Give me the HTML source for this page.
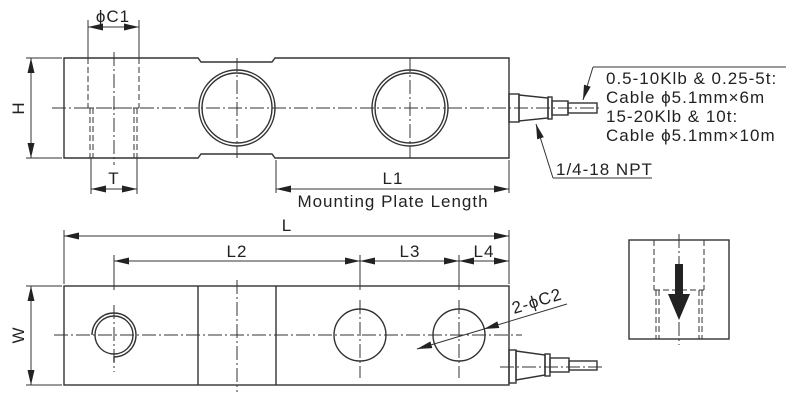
<!DOCTYPE html>
<html><head><meta charset="utf-8"><style>
html,body{margin:0;padding:0;background:#fff}
svg{display:block}
text{font-family:"Liberation Sans",Arial,sans-serif;fill:#222;letter-spacing:1px}
</style></head><body>
<svg width="800" height="400" viewBox="0 0 800 400" xmlns="http://www.w3.org/2000/svg">
<defs>
<marker id="a" viewBox="0 0 15 7" refX="15" refY="3.5" markerWidth="15" markerHeight="7" orient="auto-start-reverse" markerUnits="userSpaceOnUse"><path d="M0,0L15,3.5L0,7z" fill="#222"/></marker>
</defs>
<g stroke="#333" stroke-width="1.4" fill="none">
<path d="M64,58H198l3,4H272l3,-4H509V158H275l-3,-4H201l-3,4H64Z"/>
<circle cx="237" cy="108" r="38"/><circle cx="237" cy="108" r="35"/>
<circle cx="410" cy="108" r="38"/><circle cx="410" cy="108" r="35"/>
<rect x="509" y="94" width="10" height="28"/>
<path d="M519,95L548,98V118L519,121Z"/>
<rect x="548" y="97" width="4" height="22"/>
<rect x="552" y="101" width="16" height="14"/>
<rect x="568" y="103" width="29" height="10"/>
<rect x="64" y="286" width="445" height="99"/>
<line x1="198" y1="286" x2="198" y2="385"/><line x1="276" y1="286" x2="276" y2="385"/>
<circle cx="114" cy="335" r="19"/>
<path d="M92,335A22,22 0 1 1 114,357V362"/>
<circle cx="360" cy="335" r="26"/><circle cx="459" cy="335" r="26"/>
<rect x="509" y="350" width="7" height="33"/>
<path d="M516,351L545,355V375L516,380Z"/>
<rect x="545" y="354" width="5" height="22"/>
<rect x="550" y="358" width="19" height="14"/>
<rect x="569" y="361" width="28" height="9"/>
<rect x="629" y="240" width="100" height="99"/>
</g>
<g stroke="#333" stroke-width="1" fill="none" stroke-dasharray="14,3,2,3">
<line x1="52" y1="108" x2="600" y2="108"/>
<line x1="237" y1="58" x2="237" y2="158"/><line x1="410" y1="58" x2="410" y2="158"/>
<line x1="114" y1="52" x2="114" y2="165"/>
<line x1="54" y1="335" x2="522" y2="335"/>
<line x1="114" y1="305" x2="114" y2="372"/>
<line x1="237" y1="280" x2="237" y2="392"/>
<line x1="360" y1="300" x2="360" y2="378"/>
<line x1="459" y1="300" x2="459" y2="378"/>
<line x1="500" y1="367" x2="605" y2="367"/>
<line x1="679" y1="234" x2="679" y2="345"/>
</g>
<g stroke="#333" stroke-width="1" fill="none" stroke-dasharray="6,3">
<line x1="88" y1="58" x2="88" y2="108"/><line x1="139" y1="58" x2="139" y2="108"/>
<line x1="88" y1="108" x2="139" y2="108"/>
<line x1="90" y1="108" x2="90" y2="158"/><line x1="93" y1="108" x2="93" y2="158"/>
<line x1="134" y1="108" x2="134" y2="158"/><line x1="137" y1="108" x2="137" y2="158"/>
<line x1="654" y1="240" x2="654" y2="290"/><line x1="704" y1="240" x2="704" y2="290"/>
<line x1="654" y1="290" x2="704" y2="290"/>
<line x1="656" y1="290" x2="656" y2="339"/><line x1="659" y1="290" x2="659" y2="339"/>
<line x1="699" y1="290" x2="699" y2="339"/><line x1="702" y1="290" x2="702" y2="339"/>
</g>
<g stroke="#333" stroke-width="1" fill="none">
<line x1="88" y1="20" x2="88" y2="58"/><line x1="139" y1="20" x2="139" y2="58"/>
<line x1="88" y1="27" x2="139" y2="27" marker-start="url(#a)" marker-end="url(#a)"/>
<line x1="26" y1="58" x2="62" y2="58"/><line x1="26" y1="158" x2="62" y2="158"/>
<line x1="31" y1="58" x2="31" y2="158" marker-start="url(#a)" marker-end="url(#a)"/>
<line x1="91" y1="158" x2="91" y2="194"/><line x1="137" y1="158" x2="137" y2="194"/>
<line x1="91" y1="189" x2="137" y2="189" marker-start="url(#a)" marker-end="url(#a)"/>
<line x1="276" y1="160" x2="276" y2="193"/><line x1="509" y1="160" x2="509" y2="193"/>
<line x1="276" y1="189" x2="509" y2="189" marker-start="url(#a)" marker-end="url(#a)"/>
<line x1="64" y1="230" x2="64" y2="284"/><line x1="509" y1="230" x2="509" y2="284"/>
<line x1="64" y1="236" x2="509" y2="236" marker-start="url(#a)" marker-end="url(#a)"/>
<line x1="114" y1="255" x2="114" y2="290"/><line x1="360" y1="255" x2="360" y2="290"/>
<line x1="459" y1="255" x2="459" y2="290"/>
<line x1="114" y1="261" x2="360" y2="261" marker-start="url(#a)" marker-end="url(#a)"/>
<line x1="360" y1="261" x2="459" y2="261" marker-start="url(#a)" marker-end="url(#a)"/>
<line x1="459" y1="261" x2="509" y2="261" marker-start="url(#a)" marker-end="url(#a)"/>
<line x1="26" y1="286" x2="62" y2="286"/><line x1="26" y1="385" x2="62" y2="385"/>
<line x1="31" y1="286" x2="31" y2="385" marker-start="url(#a)" marker-end="url(#a)"/>
<line x1="417" y1="349" x2="434" y2="344" marker-start="url(#a)"/>
<line x1="434" y1="344" x2="484" y2="329"/>
<line x1="484" y1="329" x2="567" y2="304" marker-start="url(#a)"/>
<line x1="786" y1="67" x2="593" y2="67"/>
<line x1="593" y1="67" x2="583" y2="100" marker-end="url(#a)"/>
<line x1="652" y1="178" x2="553" y2="178"/>
<line x1="553" y1="178" x2="536" y2="124" marker-end="url(#a)"/>
</g>
<path d="M675,264h8v30h7l-11,26l-11,-26h7z" fill="#222"/>
<g font-size="17">
<text x="113" y="22" text-anchor="middle">ϕC1</text>
<text transform="translate(24,108) rotate(-90)" text-anchor="middle">H</text>
<text x="114" y="184" text-anchor="middle">T</text>
<text x="393" y="184" text-anchor="middle">L1</text>
<text x="393" y="207" text-anchor="middle">Mounting Plate Length</text>
<text x="287" y="231" text-anchor="middle">L</text>
<text x="237" y="257" text-anchor="middle">L2</text>
<text x="410" y="257" text-anchor="middle">L3</text>
<text x="484" y="257" text-anchor="middle">L4</text>
<text transform="translate(24,335) rotate(-90)" text-anchor="middle">W</text>
<text transform="translate(514,314) rotate(-17)">2-ϕC2</text>
<text x="606" y="84">0.5-10Klb &amp; 0.25-5t:</text>
<text x="606" y="103">Cable ϕ5.1mm×6m</text>
<text x="606" y="122">15-20Klb &amp; 10t:</text>
<text x="606" y="141">Cable ϕ5.1mm×10m</text>
<text x="556" y="175">1/4-18 NPT</text>
</g>
</svg>
</body></html>
